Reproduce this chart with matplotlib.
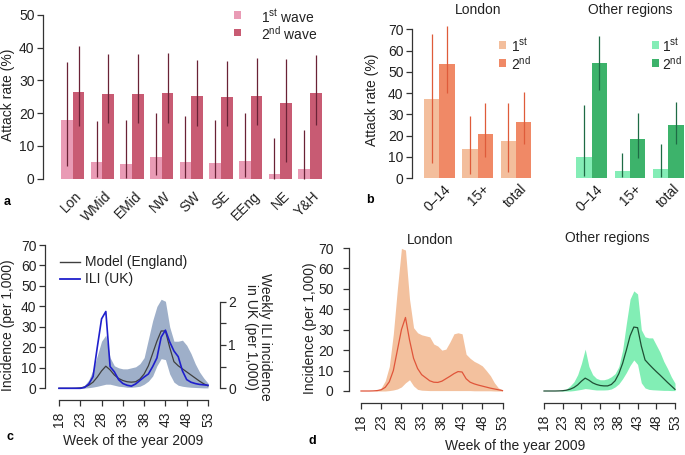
import matplotlib
matplotlib.use("Agg")
import matplotlib.pyplot as plt
from matplotlib.lines import Line2D
from matplotlib.patches import Rectangle
import numpy as np

plt.rcParams['font.family'] = ['Liberation Sans', 'DejaVu Sans']
plt.rcParams['font.size'] = 10
plt.rcParams['mathtext.fontset'] = 'custom'
plt.rcParams['mathtext.rm'] = 'Liberation Sans'

# ---------------- data ----------------
regions = ["Lon", "WMid", "EMid", "NW", "SW", "SE", "EEng", "NE", "Y&H"]
wave1 = [18, 5, 4.5, 6.7, 5, 4.8, 5.3, 1.3, 3]
wave1_lo = [4, 0.6, 0.3, 1, 0.3, 0.3, 0.5, 0, 0]
wave1_hi = [35.5, 17.6, 18, 20, 19, 17.8, 20, 12.5, 14.8]
wave2 = [26.5, 26, 26, 26.3, 25.3, 25, 25.3, 23, 26.2]
wave2_lo = [16.2, 17, 17, 17, 16, 16, 16.5, 5, 16.5]
wave2_hi = [40.4, 38, 38, 38.5, 36.3, 36, 37, 36.7, 37.8]

age_groups = ["0\u201314", "15+", "total"]
lon_1st = [37, 13.5, 17.5]
lon_1st_lo = [7, 2, 3]
lon_1st_hi = [68, 29, 35.5]
lon_2nd = [53.5, 20.5, 26.5]
lon_2nd_lo = [40, 10, 16]
lon_2nd_hi = [71.5, 35.5, 40.5]
oth_1st = [9.8, 3.2, 4.3]
oth_1st_lo = [1, 0.3, 0.5]
oth_1st_hi = [34.5, 12, 16]
oth_2nd = [54.3, 18.5, 25]
oth_2nd_lo = [41.5, 9.5, 16]
oth_2nd_hi = [67, 30.5, 35.8]

weeks = list(range(18, 54))
eng_model = [0, 0, 0, 0, 0.05, 0.2, 0.6, 1.5, 3, 5.5, 8.5, 10.8, 9, 6.5, 4.8, 3.8, 3.2, 3, 3.2,
             4.5, 7, 11, 17, 23, 28, 28, 20, 13, 11, 9.5, 8, 6.5, 5, 3.5, 2.2, 1.2]
eng_hi = [0, 0, 0, 0, 0.1, 0.5, 1.5, 4, 9, 16, 23, 26, 15, 11, 10, 9.5, 9.5, 10, 10.5,
          12, 15, 24, 33, 40, 43.5, 42.5, 30, 23, 23, 23.5, 21, 17, 12, 8, 5, 2.5]
eng_lo = [0, 0, 0, 0, 0, 0, 0.1, 0.3, 0.6, 1, 1.5, 2, 2, 1.5, 1, 0.8, 0.5, 0.5, 0.7,
          1, 2, 3.5, 6, 11, 14.5, 14, 7, 3, 1.5, 1, 0.7, 0.5, 0.4, 0.3, 0.2, 0.2]
ili_uk = [0, 0, 0, 0, 0, 0, 0.02, 0.1, 0.27, 0.95, 1.6, 1.77, 0.5, 0.38, 0.2, 0.11, 0.07, 0.05,
          0.1, 0.18, 0.26, 0.33, 0.5, 0.7, 1.18, 1.34, 1.07, 0.86, 0.73, 0.4, 0.2, 0.14, 0.11,
          0.09, 0.08, 0.07]

lon_model = [0, 0, 0, 0.05, 0.2, 0.6, 1.8, 4.5, 10, 20, 30, 36, 25, 16, 11, 8, 6.5, 5, 4.3,
             4.2, 4.8, 6, 7.2, 8.5, 9.5, 9.3, 6, 4.3, 3.5, 2.9, 2.4, 1.9, 1.4, 1.0, 0.6, 0.2]
lon_hi = [0, 0, 0, 0, 0.3, 1.5, 5, 12, 28, 50, 69.8, 69, 45, 31, 28.5, 27.5, 27, 26.5, 23,
          22, 20, 20.5, 24, 28, 28.5, 28, 18, 16, 14.5, 13.5, 12.3, 10, 7.5, 4, 1.5, 0.5]
lon_lo = [0, 0, 0, 0, 0, 0, 0, 0.2, 0.5, 1, 2, 4, 5.5, 2.5, 0.8, 0.4, 0.3, 0.2, 0.2,
          0.2, 0.2, 0.2, 0.2, 0.2, 0.2, 0.2, 0.2, 0.2, 0.1, 0.1, 0.1, 0.1, 0.1, 0, 0, 0]
oth_model = [0, 0, 0, 0, 0.05, 0.15, 0.4, 0.9, 1.7, 3, 4.8, 6.3, 5.3, 4, 3.2, 2.7, 2.5, 2.5,
             3.2, 5, 8.5, 13.5, 20, 27, 31.3, 31, 22, 15.2, 13.2, 11.3, 9.5, 7.8, 6, 4.2, 2.5, 0.8]
oth_hi = [0, 0, 0, 0, 0, 0.3, 1, 2.5, 4.5, 8, 13.5, 20.5, 12, 8, 6.2, 5.5, 5.5, 6, 7,
          8.5, 12, 20, 33, 45, 49, 47.5, 30, 26.5, 26, 26, 22.5, 19, 14.5, 11, 7, 3.8]
oth_lo = [0, 0, 0, 0, 0, 0, 0, 0, 0.2, 0.5, 0.8, 1.2, 1, 0.7, 0.5, 0.5, 0.5, 0.6, 1,
          2, 3.5, 6, 9, 12.5, 15.2, 13, 4, 1.5, 0.8, 0.6, 0.5, 0.4, 0.3, 0.3, 0.2, 0.2]

W, H = 685, 455
fig = plt.figure(figsize=(W / 100, H / 100), dpi=100)

AXC = '#333333'
PX = 0.72  # points per pixel


def make_ax(box, xref, yref):
    L, T, R, B = box
    ax = fig.add_axes([L / W, 1 - B / H, (R - L) / W, (B - T) / H])
    (v1, p1), (v2, p2) = xref
    s = (p2 - p1) / (v2 - v1)
    ax.set_xlim(v1 + (L - p1) / s, v1 + (R - p1) / s)
    (v1, p1), (v2, p2) = yref
    s = (p2 - p1) / (v2 - v1)
    ax.set_ylim(v1 + (B - p1) / s, v1 + (T - p1) / s)
    ax.patch.set_alpha(0)
    for sp in ax.spines.values():
        sp.set_visible(False)
    ax.tick_params(colors=AXC, labelcolor='#222222', length=4 * PX * 1.4, width=0.9, labelsize=10)
    ax.set_xticks([])
    ax.set_yticks([])
    return ax


def yaxis(ax, ticks, offset_px, lo, hi, labels=True):
    sp = ax.spines['left']
    sp.set_visible(True)
    sp.set_position(('outward', offset_px * PX))
    sp.set_bounds(lo, hi)
    sp.set_color(AXC)
    sp.set_linewidth(0.9)
    ax.set_yticks(ticks)
    if not labels:
        ax.set_yticklabels([])
    ax.tick_params(axis='y', pad=2)


def xaxis_weeks(ax, offset_px):
    sp = ax.spines['bottom']
    sp.set_visible(True)
    sp.set_position(('outward', offset_px * PX))
    sp.set_bounds(18, 53)
    sp.set_color(AXC)
    sp.set_linewidth(0.9)
    ax.set_xticks(range(18, 54, 5))
    ax.set_xticklabels([str(v) for v in range(18, 54, 5)], rotation=90)
    ax.tick_params(axis='x', pad=4)


def ftext(x, y, s, **kw):
    fig.text(x / W, 1 - y / H, s, **kw)


def fsquare(x, y, size, color):
    fig.patches.append(Rectangle(((x - size / 2) / W, 1 - (y + size / 2) / H), size / W, size / H,
                                 transform=fig.transFigure, color=color, lw=0))


def fline(x0, x1, y, color, lw):
    fig.lines.append(Line2D([x0 / W, x1 / W], [1 - y / H, 1 - y / H], transform=fig.transFigure,
                            color=color, lw=lw))


def rot_labels(ax, labels, dx, dy):
    for i, lab in enumerate(labels):
        ax.annotate(lab, xy=(i, 0), xycoords=('data', 'axes fraction'), xytext=(dx, dy),
                    textcoords='offset pixels', rotation=45, ha='right', va='center',
                    rotation_mode='anchor', fontsize=10, color='#222222')


# ---------------- panel a ----------------
axA = make_ax((50, 8, 330, 182), ((0, 72.7), (8, 310)), ((0, 178.7), (50, 15)))
yaxis(axA, [0, 10, 20, 30, 40, 50], 7, 0, 50)
xA = np.arange(len(regions))
bw = 0.395
c1a, c2a, ea = '#E99BB5', '#C85B73', '#6A2236'
axA.bar(xA - bw / 2, wave1, width=bw, color=c1a, lw=0)
axA.bar(xA + bw / 2, wave2, width=bw, color=c2a, lw=0)
axA.vlines(xA - bw / 2, wave1_lo, wave1_hi, color=ea, lw=0.9)
axA.vlines(xA + bw / 2, wave2_lo, wave2_hi, color=ea, lw=0.9)
rot_labels(axA, regions, 7, -12)
ftext(8, 95, "Attack rate (%)", rotation=90, ha='center', va='center', fontsize=10, color='#222222')
fsquare(237, 15, 7, c1a)
fsquare(237, 32, 7, c2a)
ftext(261, 17, r"1$^{\mathrm{st}}$ wave", ha='left', va='center', fontsize=10, color='#222222')
ftext(261, 34, r"2$^{\mathrm{nd}}$ wave", ha='left', va='center', fontsize=10, color='#222222')
ftext(7, 202, "a", fontweight='bold', ha='center', va='center', fontsize=9)

# ---------------- panel b ----------------
bw2 = 0.40
xB = np.arange(len(age_groups))
axBL = make_ax((418, 20, 540, 182), ((0, 439.3), (2, 516)), ((0, 178), (70, 29.3)))
yaxis(axBL, [0, 10, 20, 30, 40, 50, 60, 70], 6, 0, 70)
c1l, c2l, el = '#F3BE9C', '#F08966', '#DF5B3A'
axBL.bar(xB - bw2 / 2, lon_1st, width=bw2, color=c1l, lw=0)
axBL.bar(xB + bw2 / 2, lon_2nd, width=bw2, color=c2l, lw=0)
axBL.vlines(xB - bw2 / 2, lon_1st_lo, lon_1st_hi, color=el, lw=0.9)
axBL.vlines(xB + bw2 / 2, lon_2nd_lo, lon_2nd_hi, color=el, lw=0.9)
rot_labels(axBL, age_groups, 9, -5)

axBO = make_ax((565, 20, 685, 182), ((0, 591.7), (2, 668.4)), ((0, 178), (70, 29.3)))
c1o, c2o, eo = '#84EDB6', '#3DB36B', '#1E6B45'
axBO.bar(xB - bw2 / 2, oth_1st, width=bw2, color=c1o, lw=0)
axBO.bar(xB + bw2 / 2, oth_2nd, width=bw2, color=c2o, lw=0)
axBO.vlines(xB - bw2 / 2, oth_1st_lo, oth_1st_hi, color=eo, lw=0.9)
axBO.vlines(xB + bw2 / 2, oth_2nd_lo, oth_2nd_hi, color=eo, lw=0.9)
rot_labels(axBO, age_groups, 9, -5)

ftext(372, 100, "Attack rate (%)", rotation=90, ha='center', va='center', fontsize=10, color='#222222')
ftext(478, 10, "London", ha='center', va='center', fontsize=10, color='#222222')
ftext(630, 10, "Other regions", ha='center', va='center', fontsize=10, color='#222222')
fsquare(502, 45, 7, c1l)
fsquare(502, 63, 7, c2l)
ftext(511, 46, r"1$^{\mathrm{st}}$", ha='left', va='center', fontsize=10, color='#222222')
ftext(511, 64, r"2$^{\mathrm{nd}}$", ha='left', va='center', fontsize=10, color='#222222')
fsquare(655, 45, 7, c1o)
fsquare(655, 63, 7, c2o)
ftext(662, 46, r"1$^{\mathrm{st}}$", ha='left', va='center', fontsize=10, color='#222222')
ftext(662, 64, r"2$^{\mathrm{nd}}$", ha='left', va='center', fontsize=10, color='#222222')
ftext(370, 200, "b", fontweight='bold', ha='center', va='center', fontsize=9)

# ---------------- panel c ----------------
ILI_SCALE = 21.2
axC = make_ax((52, 242, 214, 392), ((18, 59), (53, 208)), ((0, 388.3), (70, 245)))
yaxis(axC, [0, 10, 20, 30, 40, 50, 60, 70], 7, 0, 70)
xaxis_weeks(axC, 8)
axC.fill_between(weeks, eng_lo, eng_hi, color='#9EAFC9', lw=0)
axC.plot(weeks, eng_model, color='#3F3F3F', lw=0.9)
axC2 = axC.twinx()
y0, y1 = axC.get_ylim()
axC2.set_ylim(y0 / ILI_SCALE, y1 / ILI_SCALE)
for sp in axC2.spines.values():
    sp.set_visible(False)
sp = axC2.spines['right']
sp.set_visible(True)
sp.set_position(('outward', 6 * PX))
sp.set_bounds(0, 2)
sp.set_color(AXC)
sp.set_linewidth(0.9)
axC2.set_yticks([0, 0.5, 1, 1.5, 2])
axC2.set_yticklabels(['0', '', '1', '', '2'])
axC2.tick_params(axis='y', colors=AXC, labelcolor='#222222', length=4 * PX * 1.4, width=0.9,
                 labelsize=10, pad=2)
axC2.plot(weeks, ili_uk, color='#1F1FCC', lw=1.2)
ftext(258, 337, "Weekly ILI incidence\nin UK (per 1,000)", rotation=-90, ha='center', va='center',
      fontsize=10, color='#222222', multialignment='center', linespacing=1.0)
fline(60, 80, 262, '#3F3F3F', 1.0)
fline(60, 80, 279, '#1F1FCC', 1.3)
ftext(85, 262, "Model (England)", ha='left', va='center', fontsize=10, color='#222222')
ftext(85, 279, "ILI (UK)", ha='left', va='center', fontsize=10, color='#222222')
ftext(8, 325, "Incidence (per 1,000)", rotation=90, ha='center', va='center', fontsize=10,
      color='#222222')
ftext(133, 441, "Week of the year 2009", ha='center', va='center', fontsize=10, color='#222222')
ftext(10, 437, "c", fontweight='bold', ha='center', va='center', fontsize=9)

# ---------------- panel d ----------------
axDL = make_ax((355, 245, 508, 395), ((18, 361), (53, 502.5)), ((0, 391), (70, 248)))
yaxis(axDL, [0, 10, 20, 30, 40, 50, 60, 70], 6, 0, 70)
axDL.tick_params(axis='y', pad=7)
xaxis_weeks(axDL, 8)
axDL.fill_between(weeks, lon_lo, lon_hi, color='#F3C19E', lw=0)
axDL.plot(weeks, lon_model, color='#E0553A', lw=0.9)

axDO = make_ax((538, 245, 682, 395), ((18, 544), (53, 675)), ((0, 391), (70, 248)))
xaxis_weeks(axDO, 8)
axDO.fill_between(weeks, oth_lo, oth_hi, color='#82EEB5', lw=0)
axDO.plot(weeks, oth_model, color='#1F4F35', lw=0.9)

ftext(310, 328, "Incidence (per 1,000)", rotation=90, ha='center', va='center', fontsize=10,
      color='#222222')
ftext(430, 240, "London", ha='center', va='center', fontsize=10, color='#222222')
ftext(607, 238, "Other regions", ha='center', va='center', fontsize=10, color='#222222')
ftext(515, 446, "Week of the year 2009", ha='center', va='center', fontsize=10, color='#222222')
ftext(312, 441, "d", fontweight='bold', ha='center', va='center', fontsize=9)

fig.savefig("out.png", dpi=100)
